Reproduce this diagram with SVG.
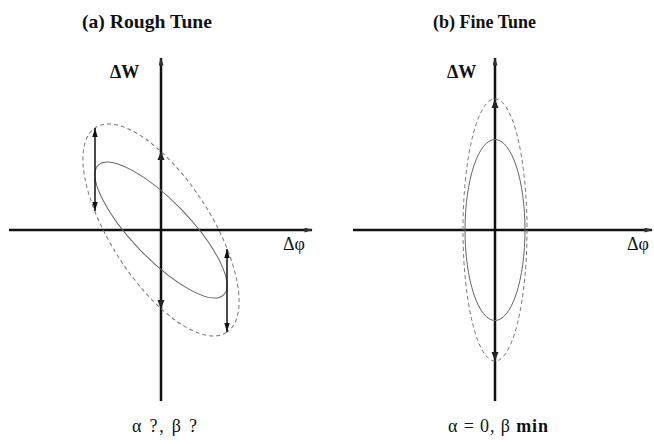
<svg xmlns="http://www.w3.org/2000/svg" width="654" height="444" viewBox="0 0 654 444">
<style>
.axis{stroke:#111;stroke-width:2.5;fill:none}
.ell{stroke:#666;stroke-width:1;fill:none}
.dash{stroke:#777;stroke-width:1;fill:none;stroke-dasharray:4 3}
.dbl{stroke:#111;stroke-width:1.5;fill:none}
.t{font-family:"Liberation Serif","DejaVu Serif","Times New Roman",serif;fill:#111}
.b{font-weight:bold}
.head{fill:#222}
</style>
<defs>
<marker id="ax" viewBox="0 0 10 6" refX="9" refY="3" markerWidth="10" markerHeight="5" markerUnits="userSpaceOnUse" orient="auto">
<path d="M0,0 L10,3 L0,6 z" fill="#333"/>
</marker>
<marker id="ah" viewBox="0 0 10 6" refX="10" refY="3" markerWidth="9" markerHeight="6" markerUnits="userSpaceOnUse" orient="auto-start-reverse">
<path d="M0,0 L10,3 L0,6 z" fill="#111"/>
</marker>
</defs>

<g id="titles">
<text class="t b" x="82" y="28" font-size="19" textLength="130" lengthAdjust="spacingAndGlyphs">(a) Rough Tune</text>
<text class="t b" x="433" y="28" font-size="19" textLength="103" lengthAdjust="spacingAndGlyphs">(b) Fine Tune</text>
</g>

<g id="panel-a">
<g id="axes-a">
<line class="axis" x1="9" y1="230" x2="312" y2="230" marker-end="url(#ax)"/>
<line class="axis" x1="161" y1="401" x2="161" y2="58" marker-end="url(#ax)"/>
<text class="t b" x="110" y="78" font-size="18">ΔW</text>
<text class="t" x="283" y="250" font-size="18">Δφ</text>
</g>
<g id="ellipse-a-dashed">
<ellipse class="dash" cx="161" cy="230" rx="121.6" ry="50.4" transform="rotate(57.4 161 230)"/>
</g>
<g id="ellipse-a-solid">
<ellipse class="ell" cx="161" cy="230" rx="90.2" ry="28.9" transform="rotate(46 161 230)"/>
</g>
<g id="arrows-a">
<line class="dbl" x1="95" y1="128" x2="95" y2="211" marker-start="url(#ah)" marker-end="url(#ah)"/>
<line class="dbl" x1="227" y1="249" x2="227" y2="332" marker-start="url(#ah)" marker-end="url(#ah)"/>
<polygon class="head" points="161,151 157.5,160 164.5,160"/>
<polygon class="head" points="161,309 157.5,300 164.5,300"/>
</g>
<text class="t" x="132" y="432" font-size="18" textLength="65">α ?, β ?</text>
</g>

<g id="panel-b">
<g id="axes-b">
<line class="axis" x1="353" y1="230" x2="652" y2="230" marker-end="url(#ax)"/>
<line class="axis" x1="495" y1="401" x2="495" y2="58" marker-end="url(#ax)"/>
<text class="t b" x="447" y="78" font-size="18">ΔW</text>
<text class="t" x="627" y="250" font-size="18">Δφ</text>
</g>
<g id="ellipse-b-dashed">
<ellipse class="dash" cx="495" cy="230" rx="32" ry="131"/>
</g>
<g id="ellipse-b-solid">
<ellipse class="ell" cx="495" cy="230" rx="30" ry="90.5"/>
</g>
<g id="arrows-b">
<polygon class="head" points="495,99 491.5,108 498.5,108"/>
<polygon class="head" points="495,361 491.5,352 498.5,352"/>
</g>
<text class="t" x="448" y="432" font-size="18" textLength="100">α = 0, β <tspan class="b">min</tspan></text>
</g>
</svg>
